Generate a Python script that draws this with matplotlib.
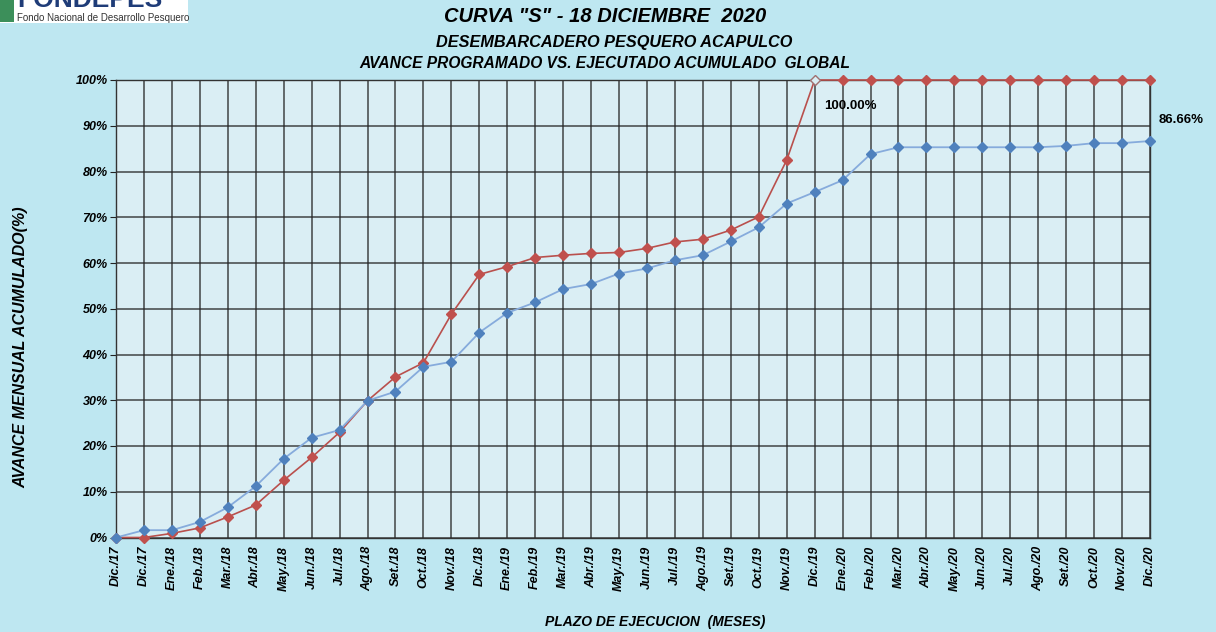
import matplotlib
matplotlib.use("Agg")
import matplotlib.pyplot as plt
from matplotlib.patches import Rectangle

months = ["Ene", "Feb", "Mar", "Abr", "May", "Jun", "Jul", "Ago", "Set", "Oct", "Nov", "Dic"]
categories = ["Dic./17", "Dic./17"] + [m + "./18" for m in months] + \
    [m + "./19" for m in months] + [m + "./20" for m in months]

programado = [0.0, 0.0, 0.9, 2.1, 4.5, 7.1, 12.5, 17.5, 23.0, 29.9, 35.1, 38.2, 48.8,
              57.5, 59.2, 61.2, 61.7, 62.1, 62.3, 63.2, 64.6, 65.2, 67.2, 70.1, 82.5,
              100.0, 100.0, 100.0, 100.0, 100.0, 100.0, 100.0, 100.0, 100.0, 100.0,
              100.0, 100.0, 100.0]
ejecutado = [0.0, 1.6, 1.6, 3.4, 6.6, 11.2, 17.2, 21.8, 23.5, 29.9, 31.9, 37.3, 38.4,
             44.8, 49.1, 51.4, 54.3, 55.4, 57.7, 58.8, 60.6, 61.7, 64.7, 67.8, 73.0,
             75.5, 78.1, 83.8, 85.3, 85.3, 85.3, 85.3, 85.3, 85.3, 85.6, 86.2, 86.2,
             86.66]
yticks = [0, 10, 20, 30, 40, 50, 60, 70, 80, 90, 100]
hito = 25  # punto donde el programado llega al 100%

font = ["Liberation Sans Narrow", "Liberation Sans", "DejaVu Sans"]
plt.rcParams["font.family"] = font

fig = plt.figure(figsize=(12.16, 6.32), dpi=100, facecolor="#BEE7F1")
ax = fig.add_axes([116 / 1216, 1 - 537.5 / 632, 1034 / 1216, 457.5 / 632])
ax.set_facecolor("#DAEEF4")

x = list(range(len(categories)))
marcas = [i for i in x if i != hito]
ax.plot(x, programado, color="#B9504D", lw=1.2, marker="D", ms=5.5, markevery=marcas,
        mfc="#C0504D", mec="#C0504D", clip_on=False, zorder=3)
ax.plot([hito], [programado[hito]], ls="none", marker="D", ms=5, mfc="#DAEEF4",
        mec="#A07070", mew=1.0, clip_on=False, zorder=3)
ax.plot(x, ejecutado, color="#86ABDC", lw=1.3, marker="D", ms=5.5,
        mfc="#4F81BD", mec="#4F81BD", clip_on=False, zorder=4)

ax.set_xlim(0, len(categories) - 1)
ax.set_ylim(0, 100)
ax.set_xticks(x)
ax.set_xticklabels(categories, rotation=90, fontsize=9, fontweight="bold", style="italic")
ax.set_yticks(yticks)
ax.set_yticklabels([f"{v}%" for v in yticks], fontsize=9, fontweight="bold", style="italic")
ax.tick_params(axis="x", length=0, pad=6)
ax.tick_params(axis="y", length=4, pad=2, color="#222222")
ax.grid(True, color="#262626", lw=1.1, alpha=0.85)
ax.set_axisbelow(True)
for s in ax.spines.values():
    s.set_color("#333333")
    s.set_linewidth(1.0)

ax.annotate("100.00%", (hito, programado[hito]), xytext=(7, -19), textcoords="offset points",
            fontsize=9.5, fontweight="bold", ha="left", va="center")
ax.annotate("86.66%", (37, ejecutado[37]), xytext=(6, 15), textcoords="offset points",
            fontsize=9.5, fontweight="bold", ha="left", va="center", annotation_clip=False)

ax.set_xlabel("PLAZO DE EJECUCION  (MESES)", fontsize=10, fontweight="bold", style="italic",
              labelpad=0)
ax.xaxis.set_label_coords((655 - 116) / 1034, -(615 - 537.5) / 457.5)
ax.set_ylabel("AVANCE MENSUAL ACUMULADO(%)", fontsize=11.5, fontweight="bold", style="italic")
ax.yaxis.set_label_coords(-(116 - 28) / 1034, (537.5 - 347) / 457.5)

fig.text(605 / 1216, 1 - 17 / 632, 'CURVA "S" - 18 DICIEMBRE  2020', ha="center", va="center",
         fontsize=14.5, fontweight="bold", style="italic")
fig.text(614 / 1216, 1 - 43 / 632, "DESEMBARCADERO PESQUERO ACAPULCO", ha="center", va="center",
         fontsize=11.7, fontweight="bold", style="italic")
fig.text(605 / 1216, 1 - 64 / 632, "AVANCE PROGRAMADO VS. EJECUTADO ACUMULADO  GLOBAL",
         ha="center", va="center", fontsize=11.2, fontweight="bold", style="italic")

# logo
fig.patches.append(Rectangle((0, 1 - 23 / 632), 188 / 1216, 23 / 632, transform=fig.transFigure,
                             facecolor="white", edgecolor="none"))
fig.patches.append(Rectangle((0, 1 - 22 / 632), 14 / 1216, 22 / 632, transform=fig.transFigure,
                             facecolor="#3C8F5A", edgecolor="none"))
fig.text(17 / 1216, 1 - 12 / 632, "FONDEPES", ha="left", va="bottom", fontsize=19,
         fontweight="bold", color="#1F3C78", family=["Liberation Sans", "DejaVu Sans"])
fig.text(17 / 1216, 1 - 13 / 632, "Fondo Nacional de Desarrollo Pesquero", ha="left",
         va="top", fontsize=7, color="#333333", family=["Liberation Sans Narrow", "Liberation Sans"])

fig.savefig("out.png", dpi=100, facecolor=fig.get_facecolor())
